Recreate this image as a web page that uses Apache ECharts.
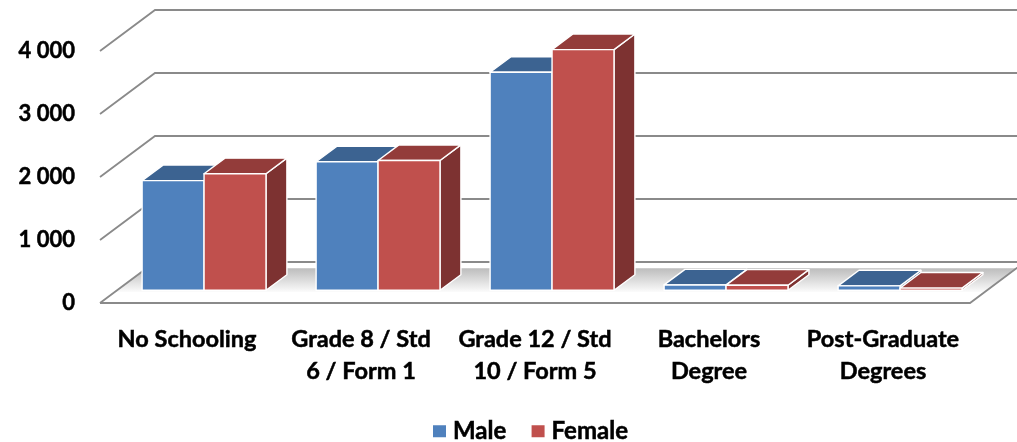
<!DOCTYPE html>
<html>
<head>
<meta charset="utf-8">
<script src="https://cdn.jsdelivr.net/npm/echarts@6/dist/echarts.min.js"></script>
<style>
html,body{margin:0;padding:0;background:#fff;}
#chart{width:1017px;height:442px;}
</style>
</head>
<body>
<div id="chart"></div>
<script>
// ---- data ----
const categories = ['No Schooling', 'Grade 8 / Std\n6 / Form 1', 'Grade 12 / Std\n10 / Form 5', 'Bachelors\nDegree', 'Post-Graduate\nDegrees'];
const seriesNames = ['Male', 'Female'];
const maleValues = [1740, 2040, 3460, 85, 70];
const femaleValues = [1850, 2060, 3820, 80, 35];
const yTicks = [0, 1000, 2000, 3000, 4000];

// ---- 3D look (styles) ----
const DX = 55, DY = -41;      // depth vector of the floor
const D0 = 0.31, D1 = 0.69;   // bar depth range
const BAR_FRAC = 0.356;       // bar width as part of a category band
const FONT = 'Lato, "Open Sans", sans-serif';
const TXT = {color: '#000', fontFamily: FONT, fontWeight: 'bold', textBorderColor: '#000', textBorderWidth: 0.5};

const palette = {
  Male:   {front: '#4F81BD', top: '#3C6391', side: '#385D8A'},
  Female: {front: '#C0504D', top: '#933C3A', side: '#7D3231'}
};

function fmt(v) { return String(v).replace(/\B(?=(\d{3})+(?!\d))/g, ' '); }

function barRenderer(name, idx) {
  const c = palette[name];
  return function (params, api) {
    const cat = api.value(0), val = api.value(1);
    const base = api.coord([cat, 0]);
    const top = api.coord([cat, val]);
    const band = api.size([1, 0])[0];
    const w = band * BAR_FRAC;
    const x0 = base[0] - w + idx * w + DX * D0;
    const yb = base[1] + DY * D0;
    const yt = top[1] + DY * D0;
    const ddx = DX * (D1 - D0), ddy = DY * (D1 - D0);
    const st = {stroke: '#ffffff', lineWidth: 1.4, lineJoin: 'round'};
    return {
      type: 'group',
      children: [
        {type: 'polygon', shape: {points: [[x0 + w, yt], [x0 + w + ddx, yt + ddy], [x0 + w + ddx, yb + ddy], [x0 + w, yb]]},
         style: Object.assign({fill: c.side}, st)},
        {type: 'polygon', shape: {points: [[x0, yt], [x0 + w, yt], [x0 + w + ddx, yt + ddy], [x0 + ddx, yt + ddy]]},
         style: Object.assign({fill: c.top}, st)},
        {type: 'rect', shape: {x: x0, y: yt, width: w, height: yb - yt},
         style: Object.assign({fill: c.front}, st)}
      ]
    };
  };
}

function wallRenderer(params, api) {
  const cs = params.coordSys;
  const y = api.coord([0, api.value(1)])[1];
  return {
    type: 'polyline',
    shape: {points: [[cs.x, y], [cs.x + DX, y + DY], [cs.x + cs.width + DX, y + DY]]},
    style: {stroke: '#8a8a8a', lineWidth: 1.8, fill: null}
  };
}

function floorRenderer(params, api) {
  const cs = params.coordSys;
  const y = api.coord([0, api.value(1)])[1];
  const L = cs.x, R = cs.x + cs.width;
  const a = 0.27, b = 0.85;
  return {
    type: 'group',
    children: [
      {type: 'polygon', shape: {points: [[L + DX * a, y + DY * a], [R + DX * a, y + DY * a], [R + DX * b, y + DY * b], [L + DX * b, y + DY * b]]},
       style: {fill: new echarts.graphic.LinearGradient(0, 0, 0, 1, [{offset: 0, color: '#bcbcbc'}, {offset: 1, color: '#fbfbfb'}])}},
      {type: 'polyline', shape: {points: [[L, y], [R, y], [R + DX, y + DY]]},
       style: {stroke: '#8a8a8a', lineWidth: 1.8, fill: null}}
    ]
  };
}

const chart = echarts.init(document.getElementById('chart'), null, {renderer: 'canvas'});
chart.setOption({
  animation: false,
  backgroundColor: '#ffffff',
  grid: {left: 100, right: 47, top: 51, bottom: 139, containLabel: false},
  legend: {
    data: seriesNames,
    top: 414,
    left: 428,
    icon: 'rect',
    itemWidth: 13, itemHeight: 12, itemGap: 25,
    textStyle: Object.assign({fontSize: 24, padding: [0, 0, 0, 2]}, TXT)
  },
  xAxis: {
    type: 'category',
    data: categories,
    axisLine: {show: false},
    axisTick: {show: false},
    axisLabel: Object.assign({interval: 0, margin: 20, fontSize: 23.5, lineHeight: 32}, TXT)
  },
  yAxis: {
    type: 'value',
    min: 0, max: 4000, interval: 1000,
    axisLine: {show: false},
    axisTick: {show: false},
    splitLine: {show: false},
    axisLabel: Object.assign({margin: 25, fontSize: 22, formatter: fmt}, TXT)
  },
  series: [
    {type: 'custom', name: '_floor', silent: true, z: 1, renderItem: floorRenderer, data: [[0, 0]]},
    {type: 'custom', name: '_walls', silent: true, z: 1, renderItem: wallRenderer,
     data: yTicks.map(v => [0, v])},
    {type: 'custom', name: 'Male', z: 2, itemStyle: {color: palette.Male.front},
     renderItem: barRenderer('Male', 0), data: maleValues.map((v, i) => [i, v])},
    {type: 'custom', name: 'Female', z: 3, itemStyle: {color: palette.Female.front},
     renderItem: barRenderer('Female', 1), data: femaleValues.map((v, i) => [i, v])}
  ]
});
</script>
</body>
</html>
